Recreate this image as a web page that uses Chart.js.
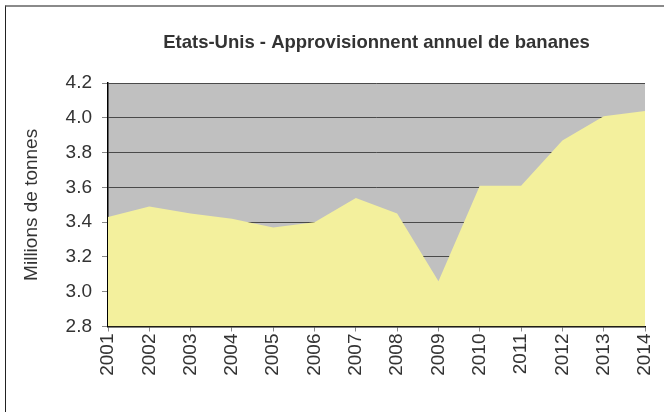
<!DOCTYPE html>
<html>
<head>
<meta charset="utf-8">
<script src="https://cdn.jsdelivr.net/npm/chart.js@4.4.0/dist/chart.umd.min.js"></script>
<style>
  html, body { margin: 0; padding: 0; background: #fff; }
  #wrap { position: relative; width: 664px; height: 412px; }
  #frame {
    position: absolute; left: 5px; top: 5px; width: 670px; height: 420px;
    border-top: 2px solid #8a8a8a; border-left: 1.5px solid #222;
    pointer-events: none;
  }
</style>
</head>
<body>
<div id="wrap">
  <canvas id="bananesChart" width="664" height="412"></canvas>
  <div id="frame"></div>
</div>
<script>
// Etats-Unis - approvisionnement annuel de bananes (millions de tonnes)
const annees = ['2001', '2002', '2003', '2004', '2005', '2006', '2007',
                '2008', '2009', '2010', '2011', '2012', '2013', '2014'];
const approvisionnement = [3.43, 3.49, 3.45, 3.42, 3.37, 3.40, 3.54,
                           3.45, 3.06, 3.61, 3.61, 3.87, 4.01, 4.04];
const yMin = 2.8;
const yMax = 4.2;
const yStep = 0.2;

// gray plot background, under the grid lines
const plotBackground = {
    id: 'plotBackground',
    beforeDraw(chart) {
        const { ctx, chartArea } = chart;
        ctx.save();
        ctx.fillStyle = '#c0c0c0';
        ctx.fillRect(chartArea.left, chartArea.top,
                     chartArea.right - chartArea.left, chartArea.bottom - chartArea.top);
        ctx.restore();
    }
};

const font = { family: '"Liberation Sans", Arial, sans-serif', size: 19 };

const bananesCtx = document.getElementById('bananesChart').getContext('2d');
const bananesChart = new Chart(bananesCtx, {
    type: 'line',
    data: {
        labels: annees,
        datasets: [{
            label: 'Approvisionnement',
            data: approvisionnement,
            backgroundColor: '#f3f09d',
            borderWidth: 0,
            pointRadius: 0,
            fill: 'start',
            tension: 0
        }]
    },
    options: {
        responsive: false,
        animation: false,
        layout: { padding: { left: 0, right: 19, top: 0, bottom: 0 } },
        plugins: {
            legend: { display: false },
            tooltip: { enabled: false },
            title: {
                display: true,
                fullSize: false,
                text: 'Etats-Unis - Approvisionnent annuel de bananes',
                color: '#333',
                font: { family: font.family, size: 18.5, weight: 'bold' },
                padding: { top: 32, bottom: 29 }
            }
        },
        scales: {
            x: {
                offset: false,
                afterFit(scale) {
                    scale.height = 85.5;
                    scale.paddingLeft = 0;
                    scale.paddingRight = 0;
                },
                grid: { drawOnChartArea: false, tickLength: 5, tickColor: '#888' },
                border: { color: '#000', width: 1.5 },
                ticks: {
                    color: '#333', font: font, padding: 2,
                    minRotation: 90, maxRotation: 90, autoSkip: false
                }
            },
            y: {
                min: yMin,
                max: yMax,
                afterFit(scale) { scale.width = 108; },
                grid: { color: '#4a4a4a', tickLength: 6, tickColor: '#888' },
                border: { color: '#000', width: 1.5 },
                ticks: {
                    stepSize: yStep, color: '#333', font: font, padding: 10,
                    callback: v => v.toFixed(1)
                },
                title: {
                    display: true,
                    text: 'Millions de tonnes',
                    color: '#333',
                    font: font,
                    padding: { top: 20, bottom: 0 }
                }
            }
        }
    },
    plugins: [plotBackground]
});
</script>
</body>
</html>
